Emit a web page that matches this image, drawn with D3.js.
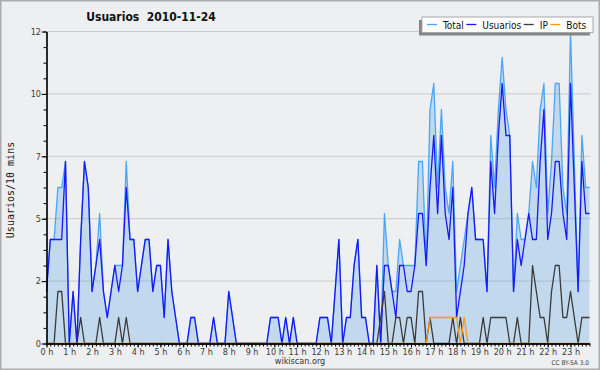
<!DOCTYPE html>
<html>
<head>
<meta charset="utf-8">
<script src="https://cdn.jsdelivr.net/npm/d3@7"></script>
<style>
  body { margin: 0; background: #fff; }
  svg { display: block; font-family: "DejaVu Sans Condensed", "DejaVu Sans", sans-serif; font-stretch: condensed; }
</style>
</head>
<body>
<div id="chart"></div>
<script>
// one value per 10 minutes, 00:00 -> 23:50
const total = [
  2,4,4,6,6,7,0,2,0,4, 7,6,2,3,5,2,1,2,3,3, 3,7,4,4,2,3,4,4,2,3,
  3,1,4,2,1,0,0,0,1,1, 0,0,0,0,1,0,0,0,2,1, 0,0,0,0,0,0,0,0,0,1,
  1,1,0,1,0,1,0,0,0,0, 0,0,1,1,1,0,2,4,0,1, 1,3,4,1,1,0,0,3,0,5,
  3,2,2,4,3,3,3,3,7,7, 3,9,10,6,9,6,5,7,2,3, 4,5,6,4,4,4,2,8,6,9,
  11,9,8,2,5,4,4,5,7,6, 9,10,5,7,10,10,6,5,12,7, 2,8,6,6
];
const usuarios = [
  2,4,4,4,4,7,0,2,0,4, 7,6,2,3,4,2,1,2,3,2, 3,6,4,4,2,3,4,4,2,3,
  3,1,4,2,1,0,0,0,1,1, 0,0,0,0,1,0,0,0,2,1, 0,0,0,0,0,0,0,0,0,1,
  1,1,0,1,0,1,0,0,0,0, 0,0,1,1,1,0,2,4,0,1, 1,3,4,1,1,0,0,3,0,3,
  3,2,1,3,3,2,2,3,5,5, 3,6,8,5,8,5,4,6,1,2, 3,5,6,4,4,4,2,7,5,8,
  10,8,8,2,4,3,4,5,4,4, 7,9,4,5,7,7,5,4,10,6, 2,7,5,5
];
const ip = [
  0,0,0,2,2,0,0,0,0,1, 0,0,0,0,1,0,0,0,0,1, 0,1,0,0,0,0,0,0,0,0,
  0,0,0,0,0,0,0,0,0,0, 0,0,0,0,0,0,0,0,0,0, 0,0,0,0,0,0,0,0,0,0,
  0,0,0,0,0,0,0,0,0,0, 0,0,0,0,0,0,0,0,0,0, 0,0,0,0,0,0,0,0,1,2,
  0,0,1,1,0,1,1,0,2,2, 0,1,0,0,0,0,0,1,0,1, 0,0,0,0,0,1,0,1,1,1,
  1,1,0,0,1,0,0,0,3,2, 1,1,0,2,3,3,1,1,2,1, 0,1,1,1
];
const bots = [
  0,0,0,0,0,0,0,0,0,0, 0,0,0,0,0,0,0,0,0,0, 0,0,0,0,0,0,0,0,0,0,
  0,0,0,0,0,0,0,0,0,0, 0,0,0,0,0,0,0,0,0,0, 0,0,0,0,0,0,0,0,0,0,
  0,0,0,0,0,0,0,0,0,0, 0,0,0,0,0,0,0,0,0,0, 0,0,0,0,0,0,0,0,0,0,
  0,0,0,0,0,0,0,0,0,0, 0,1,1,1,1,1,1,1,1,0, 1,0,0,0,0,0,0,0,0,0,
  0,0,0,0,0,0,0,0,0,0, 0,0,0,0,0,0,0,0,0,0, 0,0,0,0
];

const yTicks = [0, 2.4, 4.8, 7.2, 9.6, 12];
const yTickLabels = ["0", "2", "5", "7", "10", "12"];
const hours = [0,1,2,3,4,5,6,7,8,9,10,11,12,13,14,15,16,17,18,19,20,21,22,23];
const seriesNames = ["Total", "Usuarios", "IP", "Bots"];
const seriesColours = ["#4aa6f5", "#1818f8", "#3a3a3a", "#ff9a10"];

const width = 600;
const height = 370;
const margin = {top: 31.5, right: 10.5, bottom: 26.5, left: 46.5};
const font = "'DejaVu Sans Condensed', 'DejaVu Sans', sans-serif";

const svg = d3.select("#chart").append("svg")
  .attr("width", width)
  .attr("height", height);

svg.append("rect")
  .attr("x", 0.75).attr("y", 0.75)
  .attr("width", width - 1.5).attr("height", height - 1.5)
  .attr("fill", "#eeeff1")
  .attr("stroke", "#acacac")
  .attr("stroke-width", 1.5);

const x = d3.scaleLinear()
  .domain([0, total.length - 1])
  .range([margin.left, width - margin.right]);
const y = d3.scaleLinear()
  .domain([0, 12])
  .range([height - margin.bottom, margin.top]);

// grid
svg.append("g")
  .selectAll("line")
  .data(yTicks.slice(1))
  .join("line")
  .attr("x1", margin.left).attr("x2", x(total.length - 1) + 1)
  .attr("y1", d => y(d)).attr("y2", d => y(d))
  .attr("stroke", "#c9c9cb");

// total area + lines
svg.append("path")
  .datum(total)
  .attr("fill", "#5aa2e6")
  .attr("fill-opacity", 0.3)
  .attr("d", d3.area().x((d, i) => x(i)).y0(y(0)).y1(d => y(d)));

const line = d3.line().x((d, i) => x(i)).y(d => y(d));
[total, usuarios, ip, bots].forEach((s, k) => {
  svg.append("path")
    .datum(s)
    .attr("fill", "none")
    .attr("stroke", seriesColours[k])
    .attr("stroke-width", 1.3)
    .attr("stroke-linejoin", "round")
    .attr("d", line);
});

// axes
function styleAxis(g) {
  g.attr("font-family", font).attr("font-size", 9);
  g.selectAll("path, line").attr("stroke", "#000");
  g.selectAll("text").attr("fill", "#3c3c3c");
}

svg.append("g")
  .attr("transform", `translate(${margin.left},0)`)
  .call(d3.axisLeft(y).tickValues(d3.range(0, 12.01, 0.6)).tickSize(3).tickSizeOuter(0).tickFormat(""))
  .call(styleAxis);
svg.append("g")
  .attr("transform", `translate(${margin.left},0)`)
  .call(d3.axisLeft(y).tickValues(yTicks).tickSize(5).tickPadding(0.5).tickSizeOuter(0)
    .tickFormat((d, i) => yTickLabels[i]))
  .call(styleAxis)
  .call(g => g.select(".domain").attr("stroke-width", 1.3));

svg.append("g")
  .attr("transform", `translate(0,${y(0)})`)
  .call(d3.axisBottom(x).tickValues(d3.range(total.length)).tickSize(3).tickSizeOuter(0).tickFormat(""))
  .call(styleAxis);
svg.append("g")
  .attr("transform", `translate(0,${y(0)})`)
  .call(d3.axisBottom(x).tickValues(hours.map(h => h * 6)).tickSize(4).tickPadding(1).tickSizeOuter(0)
    .tickFormat((d, i) => hours[i] + " h"))
  .call(styleAxis)
  .call(g => g.select(".domain").attr("stroke-width", 1.3));

// texts
svg.append("text")
  .attr("x", 151).attr("y", 21)
  .attr("text-anchor", "middle")
  .attr("font-family", font)
  .attr("font-weight", "bold")
  .attr("font-size", 12)
  .attr("fill", "#111")
  .style("white-space", "pre")
  .text("Usuarios  2010-11-24");

svg.append("text")
  .attr("transform", "translate(13.5,190) rotate(-90)")
  .attr("text-anchor", "middle")
  .attr("font-family", "'DejaVu Sans Mono', monospace")
  .attr("font-size", 10)
  .attr("fill", "#1a1a1a")
  .text("Usuarios/10 mins");

svg.append("text")
  .attr("x", 300).attr("y", 364)
  .attr("text-anchor", "middle")
  .attr("font-family", font)
  .attr("font-size", 9)
  .attr("fill", "#333")
  .text("wikiscan.org");

svg.append("text")
  .attr("x", 589).attr("y", 365)
  .attr("text-anchor", "end")
  .attr("font-family", font)
  .attr("font-size", 6.5)
  .attr("fill", "#444")
  .text("CC BY-SA 3.0");

// legend
const lg = svg.append("g");
lg.append("rect")
  .attr("x", 419).attr("y", 20).attr("width", 171).attr("height", 15.5)
  .attr("fill", "#858585");
lg.append("rect")
  .attr("x", 422).attr("y", 17).attr("width", 171).attr("height", 15.5)
  .attr("fill", "#fff").attr("stroke", "#a8a8a8");

let lx = 427;
seriesNames.forEach((name, k) => {
  lg.append("line")
    .attr("x1", lx).attr("x2", lx + 10)
    .attr("y1", 24.5).attr("y2", 24.5)
    .attr("stroke", seriesColours[k]).attr("stroke-width", 1.3);
  const t = lg.append("text")
    .attr("x", lx + 16).attr("y", 28.5)
    .attr("font-family", font)
    .attr("font-size", 10)
    .attr("fill", "#111")
    .text(name);
  lx += 16 + t.node().getComputedTextLength() + 2.5;
});
</script>
</body>
</html>
